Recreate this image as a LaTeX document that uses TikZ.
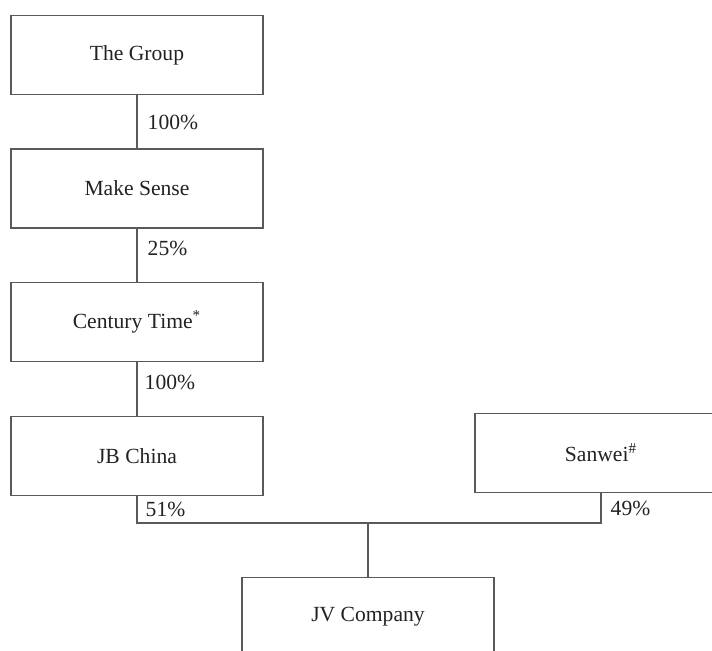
\documentclass[tikz,border=0pt]{standalone}
\usepackage{fontspec}
\setmainfont{Liberation Serif}
\usetikzlibrary{positioning}
\definecolor{linegray}{HTML}{5A5A5A}
\definecolor{textgray}{HTML}{222222}

\begin{document}
\begin{tikzpicture}[
  x=0.5pt, y=-0.5pt,
  node distance=26.6pt,
  every node/.style={font=\fontsize{10.8}{13}\selectfont, text=textgray},
  entity/.style={draw=linegray, line width=0.7pt, minimum width=126pt, minimum height=39.5pt, inner sep=0pt, align=center},
  link/.style={draw=linegray, line width=0.7pt},
  share/.style={anchor=west, inner sep=0pt, xshift=5pt}
]
\clip (0,0) rectangle (712,650);
\node[entity] (group) at (137,55) {The Group};
\node[entity, below=of group] (make) {Make Sense};
\node[entity, below=of make] (century) {Century Time\textsuperscript{*}};
\node[entity, below=of century] (jb) {JB China};
\node[entity] (sanwei) at (601,453) {Sanwei\textsuperscript{\#}};
\node[entity] (jv) at (368,617) {JV Company};
\draw[link] (group) -- node[share, pos=0.52] {100\%} (make);
\draw[link] (make) -- node[share, pos=0.36] {25\%} (century);
\draw[link] (century) -- node[share, pos=0.37, xshift=-1.5pt] {100\%} (jb);
\draw[link] (jb.south) -- node[share, xshift=-1pt] {51\%} ++(0,27) coordinate (bar)
  -| node[share, pos=0.75, xshift=-0.5pt] {49\%} (sanwei.south);
\draw[link] (jv.north) -- (jv.north |- bar);
\end{tikzpicture}
\end{document}
